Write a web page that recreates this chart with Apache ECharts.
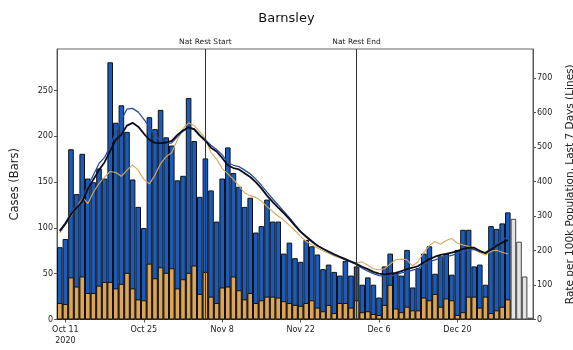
<!DOCTYPE html>
<html><head><meta charset="utf-8">
<script src="https://cdn.jsdelivr.net/npm/echarts@6/dist/echarts.min.js"></script>
<style>html,body{margin:0;padding:0;background:#fff}#c{width:573px;height:350px}</style>
</head><body><div id="c"></div>
<script>
const startDate = '2020-10-10';
const tickDates = ['2020-10-11','2020-10-25','2020-11-08','2020-11-22','2020-12-06','2020-12-20'];
const tickLabels = ['Oct 11\n2020','Oct 25','Nov 8','Nov 22','Dec 6','Dec 20'];
const eventDates = ['2020-11-05','2020-12-02'];
const eventLabels = ['Nat Rest Start','Nat Rest End'];

const casesTotal = [79,88,186,137,181,154,150,165,154,281,
 215,234,205,153,123,100,221,208,229,199,
 190,152,157,242,195,134,176,141,107,154,
 188,160,145,123,133,95,102,131,107,107,
 72,84,67,63,87,80,71,55,60,52,
 48,64,48,58,38,46,38,24,58,72,
 51,48,76,35,56,72,80,50,69,72,
 49,76,98,98,58,60,38,102,99,105,
 117];
const casesIncomplete = [110,85,47,2];
const casesOlder = [18,17,46,36,47,29,29,37,41,41,
 34,39,51,34,22,21,61,45,57,51,
 56,34,44,51,59,28,52,25,18,35,
 36,47,32,22,29,18,21,25,25,24,
 20,18,16,15,18,21,13,9,16,7,
 18,18,13,21,8,9,6,5,16,38,
 12,8,14,10,10,24,21,28,14,23,
 21,5,8,25,25,13,25,7,10,14,
 22];
const rateAll = [256,277,304,324,341,378,406,433,456,489,
 521,536,562,570,559,539,521,512,511,513,
 518,535,548,557,551,533,518,498,487,468,
 447,439,435,424,413,398,380,359,341,324,
 308,291,272,254,240,226,214,205,197,189,
 182,175,168,161,153,146,138,133,131,133,
 135,140,146,150,155,166,175,182,187,190,
 194,198,205,208,208,199,192,203,214,223,
 230];
const rateBlue = [258,281,309,332,355,387,419,452,470,502,
 544,579,610,612,601,581,558,535,516,509,
 512,530,546,555,553,535,520,505,493,477,
 455,447,443,433,422,407,389,369,350,332,
 313,295,275,256,241,228,215,205,195,187,
 181,173,166,159,149,140,133,127,125,126,
 129,135,138,143,147,159,168,173,179,182,
 186,192,197,201,203,197,194,205,218,229,
 241];
const rateOlder = [251,277,300,323,356,336,369,394,413,429,
 426,415,433,448,433,406,393,419,452,472,
 484,521,553,570,562,544,525,484,465,438,
 422,406,387,367,359,354,343,327,313,300,
 288,273,258,241,226,217,207,199,192,184,
 178,173,168,164,167,157,147,144,147,161,
 173,175,173,155,168,194,214,226,218,229,
 235,221,216,212,203,194,187,198,201,195,
 190];

const nDays = casesTotal.length + casesIncomplete.length;
const cats = [];
const d0 = new Date(startDate + 'T12:00:00Z');
for (let i = 0; i < nDays; i++) {
  const d = new Date(d0.getTime() + i * 86400000);
  cats.push(d.toISOString().slice(0, 10));
}
const tickIdx = tickDates.map(t => cats.indexOf(t));
const labelMap = {};
tickDates.forEach((t, i) => labelMap[t] = tickLabels[i]);
const incompleteData = cats.map((c, i) => i >= casesTotal.length ? casesIncomplete[i - casesTotal.length] : null);

const FONT = 'DejaVu Sans';
const chart = echarts.init(document.getElementById('c'), null, {renderer: 'canvas'});
chart.setOption({
  animation: false,
  backgroundColor: '#fff',
  textStyle: {fontFamily: FONT},
  title: {text: 'Barnsley', left: 'center', top: 7,
    textStyle: {fontFamily: FONT, fontSize: 13, fontWeight: 'normal', color: '#111'}},
  grid: {left: 57, right: 40, top: 49, bottom: 30.5, containLabel: false, outerBoundsMode: 'none',
    show: true, borderColor: '#666', borderWidth: 1},
  xAxis: {
    type: 'category', data: cats, boundaryGap: true,
    axisLine: {show: true, lineStyle: {color: '#555'}},
    axisTick: {show: true, alignWithLabel: true, length: 3, interval: (i) => tickIdx.includes(i), lineStyle: {color: '#555'}},
    axisLabel: {interval: (i) => tickIdx.includes(i), formatter: (v) => labelMap[v] || '',
      fontFamily: FONT, fontSize: 8, color: '#222', margin: 5, lineHeight: 11},
    splitLine: {show: false}
  },
  yAxis: [
    {type: 'value', min: 0, max: 295.5, interval: 50, position: 'left',
     name: 'Cases (Bars)', nameLocation: 'middle', nameGap: 36, nameRotate: 90,
     nameTextStyle: {fontFamily: FONT, fontSize: 11.5, color: '#222'},
     axisLine: {show: true, lineStyle: {color: '#555'}},
     axisTick: {show: true, length: 3, lineStyle: {color: '#555'}},
     axisLabel: {fontFamily: FONT, fontSize: 8, color: '#222', margin: 4, showMaxLabel: false},
     splitLine: {show: false}},
    {type: 'value', min: 0, max: 784, interval: 100, position: 'right',
     name: 'Rate per 100k Population, Last 7 Days (Lines)', nameLocation: 'middle', nameGap: 32, nameRotate: 90,
     nameTextStyle: {fontFamily: FONT, fontSize: 10.5, color: '#222'},
     axisLine: {show: true, lineStyle: {color: '#555'}},
     axisTick: {show: true, length: 3, lineStyle: {color: '#555'}},
     axisLabel: {fontFamily: FONT, fontSize: 8, color: '#222', margin: 4, showMaxLabel: false},
     splitLine: {show: false}}
  ],
  series: [
    {type: 'bar', name: 'Cases', data: casesTotal, barWidth: '100%', barGap: '-100%',
     itemStyle: {color: '#1a5cbd', borderColor: '#111', borderWidth: 1},
     markLine: {silent: true, symbol: 'none', z: 20,
       lineStyle: {color: '#333', width: 1, type: 'solid'},
       label: {show: true, position: 'end', distance: 3, fontFamily: FONT, fontSize: 7.5, color: '#222',
         formatter: (p) => p.name},
       data: eventDates.map((d, i) => ({xAxis: d, name: eventLabels[i]}))}},
    {type: 'bar', name: 'Older', data: casesOlder, barWidth: '100%', barGap: '-100%',
     itemStyle: {color: '#dca556', borderColor: '#111', borderWidth: 1}},
    {type: 'bar', name: 'Incomplete', data: incompleteData, barWidth: '100%', barGap: '-100%',
     itemStyle: {color: '#e4e4e4', borderColor: '#444', borderWidth: 1}},
    {type: 'line', yAxisIndex: 1, data: rateOlder, symbol: 'none', z: 5,
     lineStyle: {color: '#d8a85e', width: 1.1}},
    {type: 'line', yAxisIndex: 1, data: rateBlue, symbol: 'none', z: 6,
     lineStyle: {color: '#2d4f9e', width: 1.3}},
    {type: 'line', yAxisIndex: 1, data: rateAll, symbol: 'none', z: 7,
     lineStyle: {color: '#0d0d1a', width: 1.8}}
  ]
});
</script></body></html>
